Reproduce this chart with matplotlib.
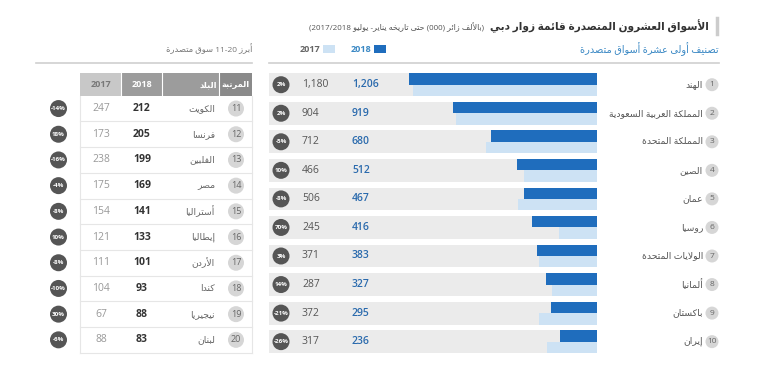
import re
import matplotlib.pyplot as plt
from matplotlib.patches import Circle, Rectangle

plt.rcParams['font.family'] = ['Open Sans', 'DejaVu Sans']

# top 10 markets
top_names = ['الهند', 'المملكة العربية السعودية', 'المملكة المتحدة', 'الصين', 'عمان',
             'روسيا', 'الولايات المتحدة', 'ألمانيا', 'باكستان', 'إيران']
top_2018 = [1206, 919, 680, 512, 467, 416, 383, 327, 295, 236]
top_2017 = [1180, 904, 712, 466, 506, 245, 371, 287, 372, 317]
top_change = ['2%', '2%', '-5%', '10%', '-8%', '70%', '3%', '14%', '-21%', '-26%']

# markets 11-20
next_names = ['الكويت', 'فرنسا', 'الفلبين', 'مصر', 'أستراليا', 'إيطاليا',
              'الأردن', 'كندا', 'نيجيريا', 'لبنان']
next_2018 = [212, 205, 199, 169, 141, 133, 101, 93, 88, 83]
next_2017 = [247, 173, 238, 175, 154, 121, 111, 104, 67, 88]
next_change = ['-14%', '18%', '-16%', '-4%', '-8%', '10%', '-8%', '-10%', '30%', '-6%']

title = 'الأسواق العشرون المتصدرة قائمة زوار دبي'
subtitle = '(بالألف زائر (000) حتى تاريخه يناير- يوليو 2017/2018)'
top_heading = 'تصنيف أولى عشرة أسواق متصدرة'
next_heading = 'أبرز 11-20 سوق متصدرة'
table_header = ['المرتبة', 'البلد', '2018', '2017']

# simple arabic shaping (no reshaper lib available)
DUAL = {'ئ': 0xFE89, 'ب': 0xFE8F, 'ت': 0xFE95, 'ث': 0xFE99, 'ج': 0xFE9D, 'ح': 0xFEA1,
        'خ': 0xFEA5, 'س': 0xFEB1, 'ش': 0xFEB5, 'ص': 0xFEB9, 'ض': 0xFEBD, 'ط': 0xFEC1,
        'ظ': 0xFEC5, 'ع': 0xFEC9, 'غ': 0xFECD, 'ف': 0xFED1, 'ق': 0xFED5, 'ك': 0xFED9,
        'ل': 0xFEDD, 'م': 0xFEE1, 'ن': 0xFEE5, 'ه': 0xFEE9, 'ي': 0xFEF1}
RIGHT = {'آ': 0xFE81, 'أ': 0xFE83, 'ؤ': 0xFE85, 'إ': 0xFE87, 'ا': 0xFE8D, 'ة': 0xFE93,
         'د': 0xFEA9, 'ذ': 0xFEAB, 'ر': 0xFEAD, 'ز': 0xFEAF, 'و': 0xFEED, 'ى': 0xFEEF}
LAM_ALEF = {'آ': 0xFEF5, 'أ': 0xFEF7, 'إ': 0xFEF9, 'ا': 0xFEFB}
MIRROR = {'(': ')', ')': '('}
LTR_RUN = r'(\d[\d/,.\-%]*\d|\d)'


def shape(s):
    chars = []
    i = 0
    while i < len(s):
        if s[i] == 'ل' and i + 1 < len(s) and s[i + 1] in LAM_ALEF:
            chars.append(('LA', LAM_ALEF[s[i + 1]]))
            i += 2
        else:
            chars.append(('C', s[i]))
            i += 1
    out = []
    for k, (kind, c) in enumerate(chars):
        prev = chars[k - 1] if k > 0 else None
        nxt = chars[k + 1] if k + 1 < len(chars) else None
        jp = prev is not None and prev[0] == 'C' and prev[1] in DUAL
        if kind == 'LA':
            out.append(chr(c + (1 if jp else 0)))
        elif c in DUAL:
            jn = nxt is not None and (nxt[0] == 'LA' or nxt[1] in DUAL or nxt[1] in RIGHT)
            b = DUAL[c]
            out.append(chr(b + 3 if jp and jn else b + 1 if jp else b + 2 if jn else b))
        elif c in RIGHT:
            out.append(chr(RIGHT[c] + (1 if jp else 0)))
        else:
            out.append(c)
    return ''.join(out)


def ar(s):
    parts = re.split(LTR_RUN, shape(s))
    vis = []
    for idx in range(len(parts) - 1, -1, -1):
        p = parts[idx]
        if idx % 2:
            vis.append(p)
        else:
            vis.append(''.join(MIRROR.get(ch, ch) for ch in reversed(p)))
    return ''.join(vis)


DARK = '#1f6dbd'
LIGHT = '#cde2f4'
BAND = '#ebebeb'
CIRC = '#555555'
RANKC = '#d6d6d6'

fig = plt.figure(figsize=(7.68, 3.70), dpi=100)

# bars (values grow leftwards from the right edge)
bx = fig.add_axes([269 / 768, 1 - 356 / 370, 328 / 768, 285.6 / 370])
n = len(top_names)
for i in range(n):
    bx.axhspan(i - 0.3975, i + 0.3975, color=BAND, lw=0)
bx.barh([i - 0.199 for i in range(n)], top_2018, height=0.3975, color=DARK, lw=0)
bx.barh([i + 0.199 for i in range(n)], top_2017, height=0.3975, color=LIGHT, lw=0)
bx.set_xlim(2100, 0)
bx.set_ylim(n - 0.5, -0.5)
bx.axis('off')

# overlay canvas in pixel units
ax = fig.add_axes([0, 0, 1, 1])
ax.set_xlim(0, 768)
ax.set_ylim(370, 0)
ax.axis('off')
ax.patch.set_alpha(0)

# title block
ax.plot([717, 717], [18, 34], color='#cccccc', lw=2.5)
ax.text(709, 26, ar(title), ha='right', va='center', fontsize=7.6, fontweight='bold', color='#333333')
ax.text(484, 27, ar(subtitle), ha='right', va='center', fontsize=5.8, color='#555555')

# headings + rules
ax.text(719, 49, ar(top_heading), ha='right', va='center', fontsize=7, color='#3a88c4')
ax.text(252, 49, ar(next_heading), ha='right', va='center', fontsize=6, color='#777777')
ax.plot([269, 719], [62.6, 62.6], color='#cfcfcf', lw=1.2)
ax.plot([36, 252], [62.6, 62.6], color='#cfcfcf', lw=1.2)

# legend
ax.add_patch(Rectangle((374, 49 - 4), 12, 8, color=DARK, lw=0))
ax.text(371, 49, '2018', ha='right', va='center', fontsize=6.5, color='#3a88c4', fontweight='bold')
ax.add_patch(Rectangle((323, 49 - 4), 12, 8, color=LIGHT, lw=0))
ax.text(320, 49, '2017', ha='right', va='center', fontsize=6.5, color='#666666', fontweight='bold')

# top 10 rows
for i in range(n):
    y = 84.7 + 28.55 * i
    ax.add_patch(Circle((281, y), 8.5, color=CIRC, lw=0))
    ax.text(281, y, top_change[i], ha='center', va='center', fontsize=4.5,
            color='white', fontweight='bold')
    ax.text(302, y, f'{top_2017[i]:,}', ha='left', va='center', fontsize=7.5, color='#555555')
    ax.text(352, y, f'{top_2018[i]:,}', ha='left', va='center', fontsize=7.5,
            color='#2a6aad', fontweight='semibold')
    ax.add_patch(Circle((712, y), 6.5, color=RANKC, lw=0))
    ax.text(712, y, str(i + 1), ha='center', va='center', fontsize=6, color='#666666')
    ax.text(703, y, ar(top_names[i]), ha='right', va='center', fontsize=6.7, color='#555555')

# table for 11-20
cols = [80, 121, 162, 219, 252]
hdr_colors = ['#c8c8c8', '#9c9c9c', '#9c9c9c', '#8a8a8a']
hdr_texts = [table_header[3], table_header[2], table_header[1], table_header[0]]
for k in range(4):
    ax.add_patch(Rectangle((cols[k], 73.3), cols[k + 1] - cols[k], 22.4,
                           color=hdr_colors[k], lw=0))
    if k < 2:
        ax.text((cols[k] + cols[k + 1]) / 2, 84.5, hdr_texts[k], ha='center', va='center',
                fontsize=6.5, color='#777777' if k == 0 else 'white', fontweight='bold')
    else:
        ax.text(cols[k + 1] - 2, 84.5, ar(hdr_texts[k]), ha='right', va='center',
                fontsize=6, color='white', fontweight='bold')
for k in range(1, 4):
    ax.plot([cols[k], cols[k]], [73.3, 95.7], color='white', lw=0.8)

row_h = 25.7
top_y = 95.7
for j in range(len(next_names)):
    y = top_y + row_h * (j + 0.5)
    ax.plot([80, 252], [top_y + row_h * (j + 1)] * 2, color='#e6e6e6', lw=0.8)
    ax.add_patch(Circle((236, y), 8, color=RANKC, lw=0))
    ax.text(236, y, str(j + 11), ha='center', va='center', fontsize=6.5, color='#666666')
    ax.text(215, y, ar(next_names[j]), ha='right', va='center', fontsize=6.7, color='#666666')
    ax.text(142, y, str(next_2018[j]), ha='center', va='center', fontsize=7.5,
            color='#333333', fontweight='bold')
    ax.text(101, y, str(next_2017[j]), ha='center', va='center', fontsize=7.5, color='#999999')
    ax.add_patch(Circle((58.5, y), 8.5, color=CIRC, lw=0))
    ax.text(58.5, y, next_change[j], ha='center', va='center', fontsize=4.5,
            color='white', fontweight='bold')
ax.plot([80, 80], [95.7, top_y + row_h * 10], color='#e6e6e6', lw=0.8)
ax.plot([252, 252], [95.7, top_y + row_h * 10], color='#e6e6e6', lw=0.8)

fig.savefig('out.png', dpi=100)
